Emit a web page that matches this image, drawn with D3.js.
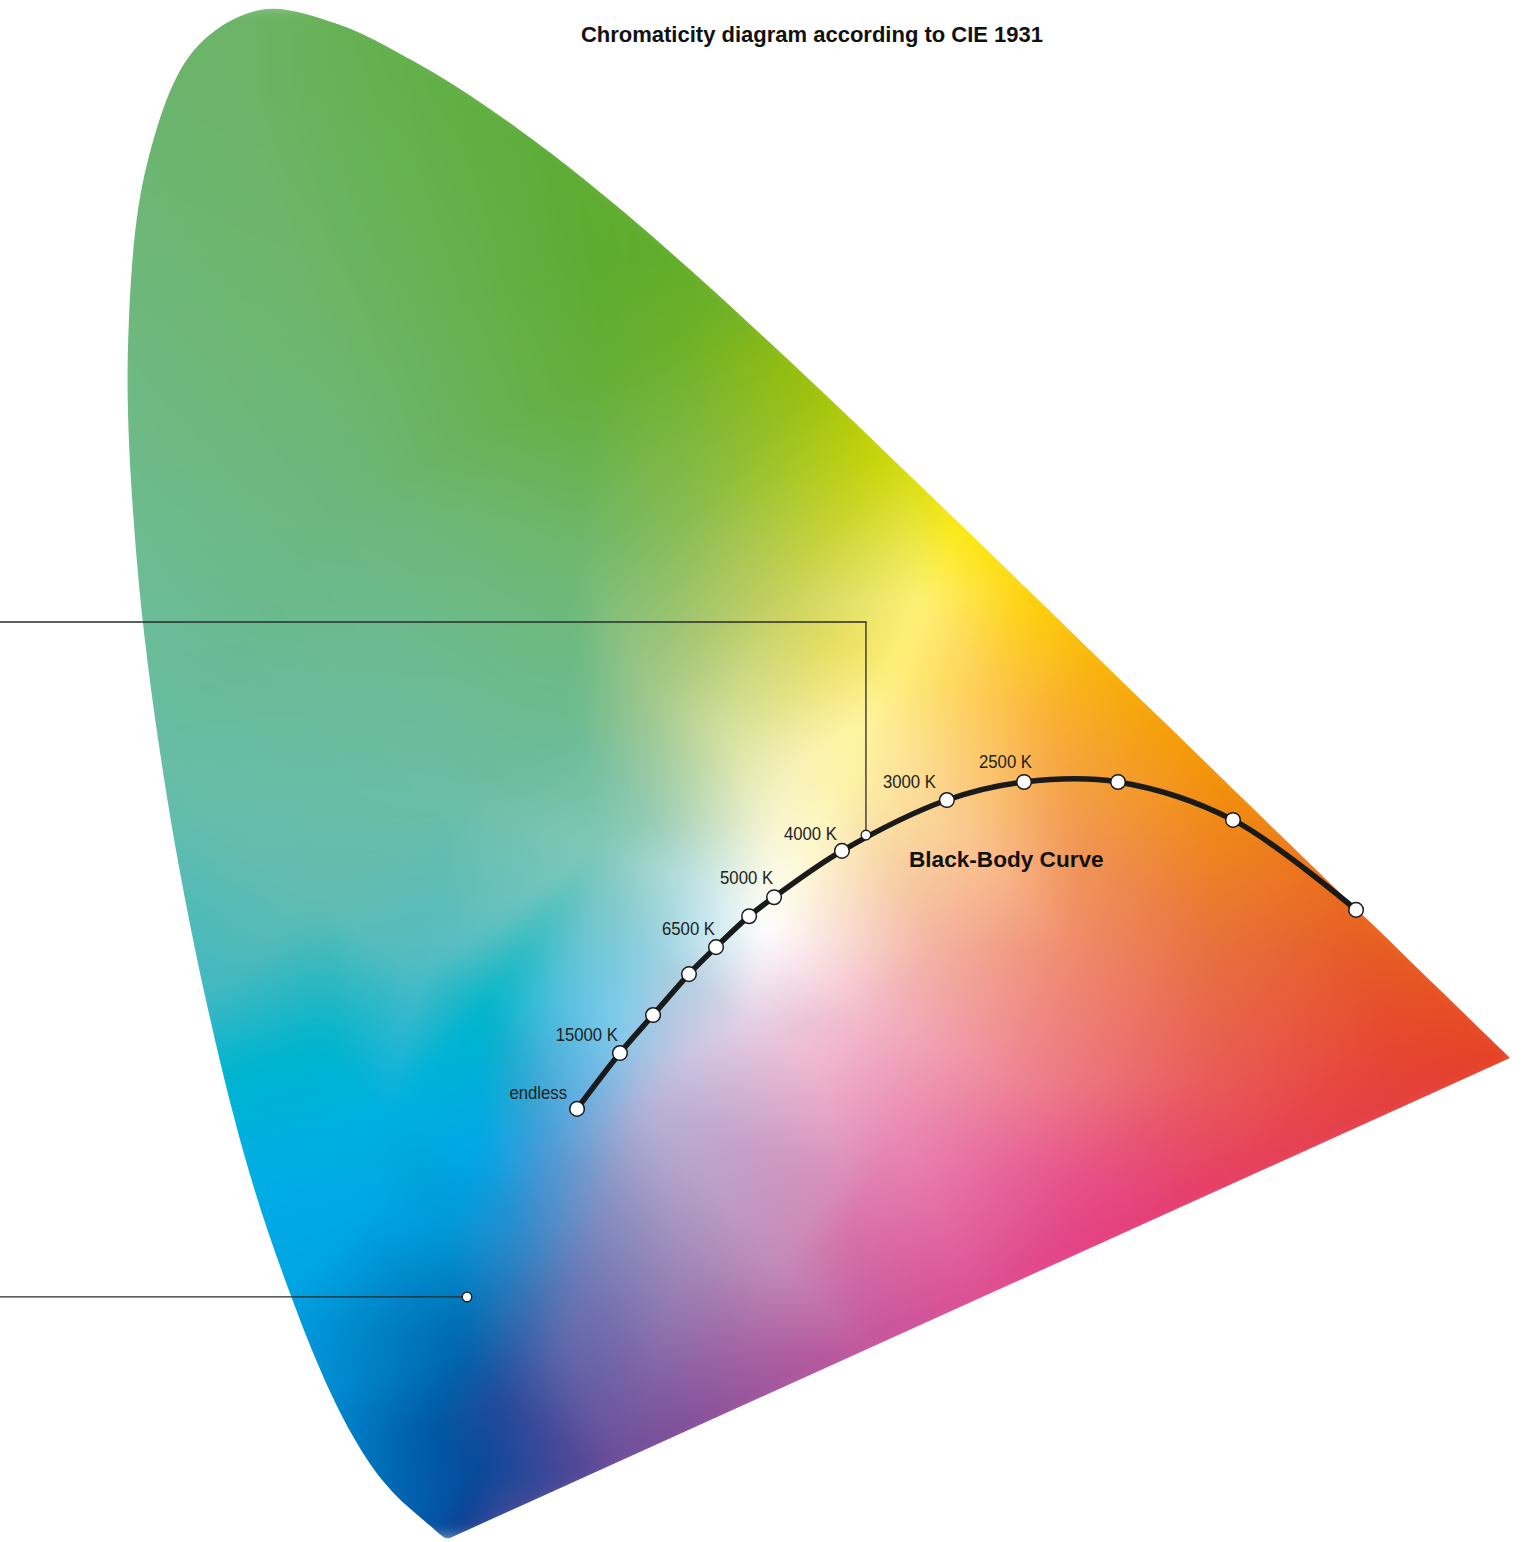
<!DOCTYPE html>
<html>
<head>
<meta charset="utf-8">
<script src="https://cdn.jsdelivr.net/npm/d3@7"></script>
<style>
  body { margin: 0; background: #fff; }
  svg { display: block; }
  text { font-family: "Liberation Sans", Arial, Helvetica, sans-serif; }
</style>
</head>
<body>
<svg id="chart" width="1525" height="1542"></svg>
<script>
// spectral locus, CIE 1931 2 deg observer, 380-700 nm in 5 nm steps
const wavelengths = [380,385,390,395,400,405,410,415,420,425,430,435,440,445,450,455,460,465,470,475,
  480,485,490,495,500,505,510,515,520,525,530,535,540,545,550,555,560,565,570,575,580,585,590,595,
  600,605,610,615,620,625,630,635,640,645,650,655,660,665,670,675,680,685,690,695,700];
const locusX = [0.1741,0.1740,0.1738,0.1736,0.1733,0.1730,0.1726,0.1721,0.1714,0.1703,0.1689,0.1669,0.1644,0.1611,
  0.1566,0.1510,0.1440,0.1355,0.1241,0.1096,0.0913,0.0687,0.0454,0.0235,0.0082,0.0039,0.0139,0.0389,0.0743,0.1142,
  0.1547,0.1929,0.2296,0.2658,0.3016,0.3373,0.3731,0.4087,0.4441,0.4788,0.5125,0.5448,0.5752,0.6029,0.6270,0.6482,
  0.6658,0.6801,0.6915,0.7006,0.7079,0.7140,0.7190,0.7230,0.7260,0.7283,0.7300,0.7311,0.7320,0.7327,0.7334,0.7340,
  0.7344,0.7346,0.7347];
const locusY = [0.0050,0.0050,0.0049,0.0049,0.0048,0.0048,0.0048,0.0048,0.0051,0.0058,0.0069,0.0086,0.0109,0.0138,
  0.0177,0.0227,0.0297,0.0399,0.0578,0.0868,0.1327,0.2007,0.2950,0.4127,0.5384,0.6548,0.7502,0.8120,0.8338,0.8262,
  0.8059,0.7816,0.7543,0.7243,0.6923,0.6589,0.6245,0.5896,0.5547,0.5202,0.4866,0.4544,0.4242,0.3965,0.3725,0.3514,
  0.3340,0.3197,0.3083,0.2993,0.2920,0.2859,0.2809,0.2770,0.2740,0.2717,0.2700,0.2689,0.2680,0.2673,0.2666,0.2660,
  0.2656,0.2654,0.2653];

// black-body (Planckian) locus
const bbNames = ['endless','15000 K','10000 K','7500 K','6500 K','5500 K','5000 K','4000 K','3000 K','2500 K','2000 K','1500 K','1000 K'];
const bbX = [0.2413,0.2640,0.2815,0.3005,0.3148,0.3323,0.3455,0.3814,0.4369,0.4777,0.5274,0.5882,0.6533];
const bbY = [0.2377,0.2680,0.2886,0.3108,0.3254,0.3422,0.3525,0.3776,0.4052,0.4150,0.4150,0.3944,0.3456];
const bbLabelled = ['endless','15000 K','6500 K','5000 K','4000 K','3000 K','2500 K'];

// the two pointer lines coming in from the left
const pointerX = [0.3941, 0.1831];
const pointerY = [0.3862, 0.1357];

// fill colours: along the spectral locus (nm), along the purple line (0 = red end, 1 = violet end), inside
const edgeNm = [380,430,450,460,470,475,480,485,488,490,495,500,505,510,515,520,525,530,540,550,555,560,565,570,575,580,585,590,595,600,610,620,640,700];
const edgeColor = ['#0a3d8e','#0450a0','#0060ac','#006cb8','#0080c8','#0090d6','#00a2e2','#00ade6','#00b4d0','#3cb8c4',
  '#66bda8','#6dbb92','#6eb880','#6cb572','#6cb46a','#6db468','#68b257','#63af4a','#5dac36','#62ad28','#78b420','#a0c206',
  '#cdd600','#fbe800','#fed400','#f9b800','#f6a300','#f39400','#f08410','#ed7418','#e9621c','#e7541f','#e64822','#e54124'];
const purpleT = [0.15,0.3,0.4,0.5,0.6,0.68,0.75,0.84,0.94];
const purpleColor = ['#e43d4a','#e5396a','#e53c80','#dc4a90','#c2509a','#a6529a','#884c96','#6a4896','#424795'];
const innerX = [0.341,0.2535,0.2514,0.1742,0.0948,0.1212,0.1477,0.0683,0.042,0.2958,0.3016,0.2413,0.3424,0.3831,0.4233,
  0.2815,0.3223,0.3625,0.2413,0.2815,0.3424,0.3831,0.464,0.4942,0.464,0.5041,0.4322,0.5047,0.5777,0.6502,0.3958,0.4804,
  0.5777,0.6745,0.408,0.5047,0.602,0.3836,0.3661,0.3312,0.2957,0.2783,0.2603,0.2429,0.2957,0.3486,0.3841,0.2165,0.234,
  0.2783,0.3312,0.19,0.1725,0.181,0.1636,0.19,0.2254,0.1054,0.1583,0.1054,0.1937,0.1408,0.1228,0.1741,0.2535,0.2799,
  0.2641,0.3064,0.2339,0.2111,0.2006,0.4100,0.3950];
const innerY = [0.335,0.6926,0.634,0.6765,0.6765,0.568,0.7578,0.785,0.6223,0.6546,0.5615,0.537,0.5126,0.4888,0.5126,
  0.4643,0.4399,0.428,0.4399,0.3917,0.3917,0.4161,0.4643,0.4524,0.3672,0.3917,0.3239,0.3239,0.3239,0.3239,0.2876,0.2518,
  0.2518,0.2697,0.2333,0.1975,0.2154,0.179,0.2626,0.2848,0.2626,0.2403,0.1958,0.152,0.152,0.152,0.1958,0.1298,0.1076,
  0.0853,0.1076,0.2182,0.1736,0.1076,0.063,0.0413,0.2182,0.35,0.312,0.274,0.293,0.236,0.1785,0.4053,0.3782,0.3239,
  0.2848,0.362,0.2957,0.1612,0.08,0.4750,0.4500];
const innerColor = ['#ffffff','#5dab30','#64ae38','#67b252','#6db66c','#6db77c','#65b250','#6cb468','#6eb87c','#6cb02a',
  '#88bc50','#6eb870','#c2cf60','#ece060','#fff176','#a2c88a','#d8e2a0','#fbf2b4','#6cbb94','#96ccb6','#f6f4d0','#fdf4a8',
  '#fdc64a','#f9b030','#f8b98a','#f29a50','#f3b0a0','#ef8a6c','#e8703e','#e65d28','#f3b7c8','#ee8090','#e95a58','#e64530',
  '#eb90b8','#e6508a','#e64458','#d977ad','#f0b8d0','#e4d0e6','#c8c2e0','#b6b4d8','#8e96c6','#6e7cb8','#a088b8','#c48ab8',
  '#da8ab8','#3e6fb0','#6068aa','#7e5ea4','#a664a4','#00a8e6','#0098d8','#0065ac','#0058a4','#08489a','#4a9cd8','#62bcb2',
  '#50bcc4','#00b4cc','#00b5ca','#00b0e0','#00a8e6','#6bbda6','#80c8b8','#92d0e0','#80ccec','#c4e4e4','#58c0e0','#2f86c6',
  '#234a9a','#fff07a','#fff49c'];

const W = 1525, H = 1542;
const svg = d3.select('#chart');

const x = d3.scaleLinear().domain([0, 0.8]).range([120.8, 120.8 + 0.8 * 1890.8]);
const y = d3.scaleLinear().domain([0, 0.9]).range([1547.2, 1547.2 - 0.9 * 1844]);

const locus = wavelengths.map((nm, i) => [locusX[i], locusY[i]]);

function locusAt(nm) {
  const i = Math.min(wavelengths.length - 2, Math.max(0, d3.bisectRight(wavelengths, nm) - 1));
  const t = (nm - wavelengths[i]) / (wavelengths[i + 1] - wavelengths[i]);
  return [locusX[i] + (locusX[i + 1] - locusX[i]) * t, locusY[i] + (locusY[i + 1] - locusY[i]) * t];
}

// ---- colour mesh: delaunay triangles, colours mixed inside each triangle
const wx = x(innerX[0]), wy = y(innerY[0]);
const pts = [], cols = [];
function addStop(cx, cy, c, grow) {
  let px = x(cx), py = y(cy);
  if (grow) { px = wx + (px - wx) * grow; py = wy + (py - wy) * grow; }
  pts.push([px, py]);
  cols.push(d3.rgb(c));
}
edgeNm.forEach((nm, i) => { const p = locusAt(nm); addStop(p[0], p[1], edgeColor[i], 1.035); });
const red = locus[locus.length - 1], violet = locus[0];
purpleT.forEach((t, i) => {
  addStop(red[0] + (violet[0] - red[0]) * t, red[1] + (violet[1] - red[1]) * t, purpleColor[i], 1.035);
});
innerX.forEach((cx, i) => addStop(cx, innerY[i], innerColor[i], 0));

const delaunay = d3.Delaunay.from(pts);
const tri = delaunay.triangles;

const raw = document.createElement('canvas');
raw.width = W; raw.height = H;
const rctx = raw.getContext('2d');
const img = rctx.createImageData(W, H);
const px = img.data;

for (let t = 0; t < tri.length; t += 3) {
  const a = pts[tri[t]], b = pts[tri[t + 1]], c = pts[tri[t + 2]];
  const ca = cols[tri[t]], cb = cols[tri[t + 1]], cc = cols[tri[t + 2]];
  const den = (b[1] - c[1]) * (a[0] - c[0]) + (c[0] - b[0]) * (a[1] - c[1]);
  if (Math.abs(den) < 1e-9) continue;
  const x0 = Math.max(0, Math.floor(Math.min(a[0], b[0], c[0])));
  const x1 = Math.min(W - 1, Math.ceil(Math.max(a[0], b[0], c[0])));
  const y0 = Math.max(0, Math.floor(Math.min(a[1], b[1], c[1])));
  const y1 = Math.min(H - 1, Math.ceil(Math.max(a[1], b[1], c[1])));
  for (let j = y0; j <= y1; j++) {
    const Y = j + 0.5;
    for (let i = x0; i <= x1; i++) {
      const X = i + 0.5;
      const l1 = ((b[1] - c[1]) * (X - c[0]) + (c[0] - b[0]) * (Y - c[1])) / den;
      const l2 = ((c[1] - a[1]) * (X - c[0]) + (a[0] - c[0]) * (Y - c[1])) / den;
      const l3 = 1 - l1 - l2;
      if (l1 < -1e-4 || l2 < -1e-4 || l3 < -1e-4) continue;
      const k = (j * W + i) * 4;
      px[k] = l1 * ca.r + l2 * cb.r + l3 * cc.r;
      px[k + 1] = l1 * ca.g + l2 * cb.g + l3 * cc.g;
      px[k + 2] = l1 * ca.b + l2 * cb.b + l3 * cc.b;
      px[k + 3] = 255;
    }
  }
}
rctx.putImageData(img, 0, 0);

const soft = document.createElement('canvas');
soft.width = W; soft.height = H;
const sctx = soft.getContext('2d');
sctx.filter = 'blur(9px)';
sctx.drawImage(raw, 0, 0);

// ---- horseshoe
const locusLine = d3.line()
  .x(d => x(d[0]))
  .y(d => y(d[1]))
  .curve(d3.curveCatmullRom.alpha(0.5));

svg.append('clipPath').attr('id', 'horseshoe')
  .append('path')
  .attr('d', locusLine(locus) + 'Z');

svg.append('image')
  .attr('href', soft.toDataURL('image/png'))
  .attr('x', 0).attr('y', 0)
  .attr('width', W).attr('height', H)
  .attr('clip-path', 'url(#horseshoe)');

// ---- pointer lines
svg.append('path')
  .attr('d', `M0,622H${x(pointerX[0])}V${y(pointerY[0])}`)
  .attr('fill', 'none').attr('stroke', '#2b2b2b').attr('stroke-width', 1.3);
svg.append('line')
  .attr('x1', 0).attr('y1', y(pointerY[1]))
  .attr('x2', x(pointerX[1])).attr('y2', y(pointerY[1]))
  .attr('stroke', '#2b2b2b').attr('stroke-width', 1.3);

// ---- black-body curve
const bb = bbNames.map((n, i) => ({ name: n, cx: bbX[i], cy: bbY[i] }));

svg.append('path')
  .datum(bb)
  .attr('d', d3.line().x(d => x(d.cx)).y(d => y(d.cy)).curve(d3.curveCatmullRom.alpha(0.5)))
  .attr('fill', 'none')
  .attr('stroke', '#1a1a1a')
  .attr('stroke-width', 5.5);

svg.selectAll('circle.bb')
  .data(bb)
  .join('circle')
  .attr('class', 'bb')
  .attr('cx', d => x(d.cx))
  .attr('cy', d => y(d.cy))
  .attr('r', 7.3)
  .attr('fill', '#fff')
  .attr('stroke', '#1a1a1a')
  .attr('stroke-width', 1.5);

svg.selectAll('circle.ptr')
  .data(pointerX)
  .join('circle')
  .attr('class', 'ptr')
  .attr('cx', d => x(d))
  .attr('cy', (d, i) => y(pointerY[i]))
  .attr('r', 4.8)
  .attr('fill', '#fff')
  .attr('stroke', '#1a1a1a')
  .attr('stroke-width', 1.3);

// label nudges, relative to their marker
const nudge = {
  'endless': [-10, -10], '15000 K': [-2, -12], '6500 K': [-1, -12], '5000 K': [-1, -13],
  '4000 K': [-5, -11], '3000 K': [-11, -12], '2500 K': [8, -14]
};
svg.selectAll('text.bb')
  .data(bb.filter(d => bbLabelled.includes(d.name)))
  .join('text')
  .attr('class', 'bb')
  .attr('x', d => x(d.cx) + nudge[d.name][0])
  .attr('y', d => y(d.cy) + nudge[d.name][1])
  .attr('text-anchor', 'end')
  .attr('font-size', 19)
  .attr('fill', '#222')
  .text(d => d.name)
  .each(function () {
    // condensed look, like the original's narrow face
    const w = this.getComputedTextLength();
    d3.select(this).attr('textLength', w * 0.88).attr('lengthAdjust', 'spacingAndGlyphs');
  });

svg.append('text')
  .attr('x', 909).attr('y', 867)
  .attr('font-size', 22.6)
  .attr('font-weight', 'bold')
  .attr('fill', '#111')
  .text('Black-Body Curve');

svg.append('text')
  .attr('x', 812).attr('y', 42)
  .attr('text-anchor', 'middle')
  .attr('font-size', 22)
  .attr('font-weight', 'bold')
  .attr('fill', '#111')
  .text('Chromaticity diagram according to CIE 1931');
</script>
</body>
</html>
